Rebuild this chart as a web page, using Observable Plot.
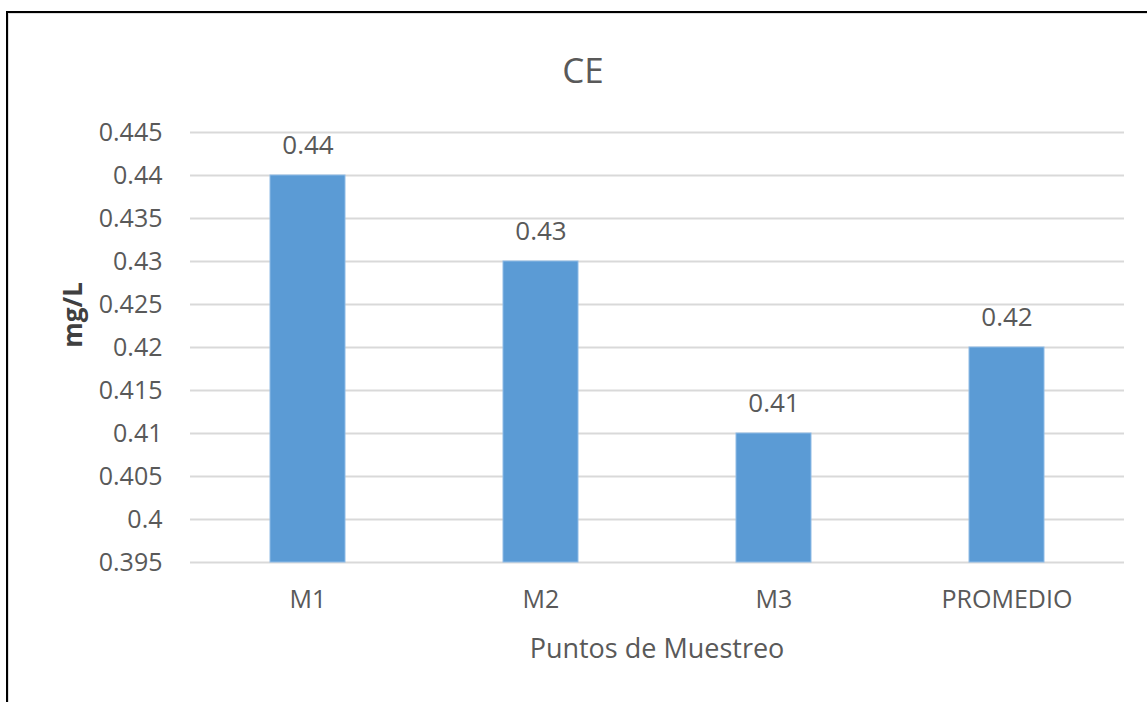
<!DOCTYPE html>
<html>
<head>
<meta charset="utf-8">
<script src="https://cdn.jsdelivr.net/npm/d3@7"></script>
<script src="https://cdn.jsdelivr.net/npm/@observablehq/plot@0.6"></script>
<style>
  html, body { margin: 0; padding: 0; background: #fff; }
  body { width: 1147px; height: 702px; position: relative; overflow: hidden; font-family: "Open Sans", sans-serif; }
  #frame { position: absolute; left: 6px; top: 11px; width: 1200px; height: 800px; border-top: 2px solid #000; border-left: 2px solid #000; box-shadow: inset 1px 1px 0 #ddd; }
  #chart { position: absolute; left: 0; top: 0; }
  .lbl { position: absolute; color: #595959; white-space: nowrap; }
  #title { left: 583px; top: 69px; font-size: 35px; transform: translate(-50%, -50%); }
  #xlabel { left: 657px; top: 647px; font-size: 27px; transform: translate(-50%, -50%); }
  #ylabel { left: 72px; top: 315px; font-size: 26px; font-weight: bold; color: #404040; transform: translate(-50%, -50%) rotate(-90deg); }
</style>
</head>
<body>
<div id="frame"></div>
<div id="chart"></div>
<div class="lbl" id="title">CE</div>
<div class="lbl" id="xlabel">Puntos de Muestreo</div>
<div class="lbl" id="ylabel">mg/L</div>
<script>
const categories = ["M1", "M2", "M3", "PROMEDIO"];
const values = [0.44, 0.43, 0.41, 0.42];
const valueLabels = ["0.44", "0.43", "0.41", "0.42"];
const yTicks = [0.395, 0.4, 0.405, 0.41, 0.415, 0.42, 0.425, 0.43, 0.435, 0.44, 0.445];
const yTickLabels = ["0.395", "0.4", "0.405", "0.41", "0.415", "0.42", "0.425", "0.43", "0.435", "0.44", "0.445"];

const data = categories.map((c, i) => ({cat: c, value: values[i], label: valueLabels[i]}));
const base = yTicks[0];

const plot = Plot.plot({
  width: 1147,
  height: 702,
  marginLeft: 190,
  marginRight: 23,
  marginTop: 132,
  marginBottom: 140,
  style: { fontFamily: "Open Sans, sans-serif", color: "#595959", background: "transparent" },
  x: { domain: categories, paddingInner: 0.68, paddingOuter: 0.34, label: null },
  y: { domain: [yTicks[0], yTicks[yTicks.length - 1]], label: null },
  marks: [
    Plot.gridY(yTicks, { stroke: "#d9d9d9", strokeOpacity: 1, strokeWidth: 2 }),
    Plot.barY(data, { x: "cat", y1: base, y2: "value", fill: "#5b9bd5", stroke: "#8fbbe6", strokeWidth: 1 }),
    Plot.text(data, { x: "cat", y: "value", text: "label", dy: -30, fontSize: 26, fill: "#595959" }),
    Plot.axisY(yTicks, { tickSize: 0, tickPadding: 28, fontSize: 25, fill: "#595959", tickFormat: (d, i) => yTickLabels[i], label: null }),
    Plot.axisX({ tickSize: 0, tickPadding: 28, fontSize: 25, fill: "#595959", label: null })
  ]
});
document.getElementById("chart").appendChild(plot);
</script>
</body>
</html>
